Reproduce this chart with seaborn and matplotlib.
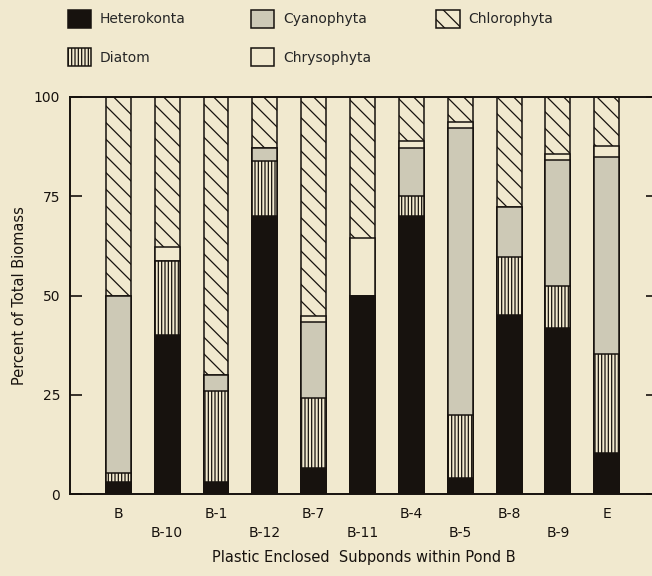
import matplotlib
matplotlib.use("Agg")
import matplotlib.pyplot as plt
from matplotlib.patches import Patch
import numpy as np
import pandas as pd
import seaborn as sns

sns.set_style("white")
plt.rcParams['font.family'] = ['DejaVu Sans']
plt.rcParams['hatch.linewidth'] = 0.9

subponds = ['B', 'B-10', 'B-1', 'B-12', 'B-7', 'B-11', 'B-4', 'B-5', 'B-8', 'B-9', 'E']

# percent of total biomass, bottom-up stacking order
heterokonta = [3, 40, 3, 70, 6.5, 50, 70, 4, 45, 41.7, 10.4]
diatom = [2.2, 18.7, 23, 14, 17.6, 0, 5, 16, 14.6, 10.7, 24.8]
cyanophyta = [44.7, 0, 4, 3.1, 19.3, 0, 12.2, 72.1, 12.6, 31.7, 49.8]
chrysophyta = [0, 3.4, 0, 0, 1.4, 14.6, 1.6, 1.7, 0, 1.5, 2.7]
chlorophyta = [50.1, 37.9, 70, 12.9, 55.2, 35.4, 11.2, 6.2, 27.8, 14.4, 12.3]

groups = ['Heterokonta', 'Diatom', 'Cyanophyta', 'Chrysophyta', 'Chlorophyta']
values = [heterokonta, diatom, cyanophyta, chrysophyta, chlorophyta]

bg = '#f1e9cf'
ink = '#17120e'
styles = {
    'Heterokonta': dict(facecolor=ink, hatch=None),
    'Diatom': dict(facecolor=bg, hatch='|||||'),
    'Cyanophyta': dict(facecolor='#cdc9b6', hatch=None),
    'Chrysophyta': dict(facecolor=bg, hatch=None),
    'Chlorophyta': dict(facecolor=bg, hatch='\\\\'),
}

df = pd.DataFrame({'Subpond': subponds})
cum = np.zeros(len(subponds))
for g, v in zip(groups, values):
    cum = cum + np.array(v)
    df[g] = cum

fig = plt.figure(figsize=(6.52, 5.76), dpi=100, facecolor=bg)
ax = fig.add_axes([70 / 652, 82 / 576, 588 / 652, 397 / 576])
ax.set_facecolor(bg)

# draw cumulative tops from the tallest down so each layer covers the one behind
for g in reversed(groups):
    st = styles[g]
    sns.barplot(data=df, x='Subpond', y=g, order=subponds, ax=ax,
                color=st['facecolor'], width=0.51, saturation=1,
                edgecolor=ink, linewidth=1.1, hatch=st['hatch'])

ax.set_ylim(0, 100)
ax.set_xlim(-0.99, 11.05)
ax.set_yticks([0, 25, 50, 75, 100])
ax.tick_params(axis='y', direction='in', length=8.5, width=1.2, colors=ink,
               labelsize=10, pad=7, right=True, left=True)
ax.tick_params(axis='x', length=0, pad=9, labelsize=10, colors=ink)
ax.set_xticks(range(len(subponds)))
ax.set_xticklabels([s if i % 2 == 0 else '\n' + s for i, s in enumerate(subponds)],
                   linespacing=1.5)
ax.set_xlabel('Plastic Enclosed  Subponds within Pond B', fontsize=10.5,
              color=ink, labelpad=7)
ax.set_ylabel('Percent of Total Biomass', fontsize=10.5, color=ink, labelpad=5)
for s in ax.spines.values():
    s.set_color(ink)
    s.set_linewidth(1.4)

handles = []
for g in ['Heterokonta', 'Diatom', 'Cyanophyta', 'Chrysophyta', 'Chlorophyta']:
    st = styles[g]
    handles.append(Patch(facecolor=st['facecolor'], edgecolor=ink, hatch=st['hatch'],
                         linewidth=1.1, label=g))
fig.legend(handles=handles, loc='upper left', bbox_to_anchor=(0.089, 1.0), ncol=3,
           frameon=False, fontsize=10, handlelength=1.7, handleheight=1.6,
           handletextpad=0.6, columnspacing=4.7, labelspacing=1.5,
           borderaxespad=0.3)

fig.savefig('out.png', dpi=100, facecolor=bg)
